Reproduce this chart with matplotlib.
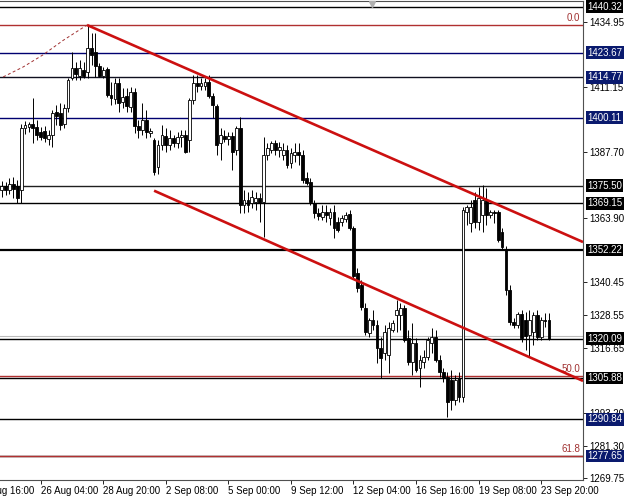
import matplotlib
matplotlib.use("Agg")
import matplotlib.pyplot as plt
import matplotlib.transforms as mtransforms

plt.rcParams["font.family"] = ["Liberation Sans", "DejaVu Sans"]
plt.rcParams["font.size"] = 7

# =============================================================================
# H4 candles, bar index 0 = 26 Aug 04:00
first_bar = -10
opens = [
    1374.0, 1375.4, 1374.0, 1376.1, 1375.4, 1374.0, 1396.4, 1396.8, 1397.9, 1396.8,
    1395.0, 1395.3, 1392.4, 1393.9, 1402.2, 1401.9, 1397.9, 1403.7, 1414.5, 1418.2,
    1415.3, 1417.4, 1416.7, 1425.4, 1424.0, 1418.9, 1415.3, 1417.8, 1408.4, 1406.9,
    1412.7, 1405.8, 1408.0, 1404.0, 1409.5, 1397.1, 1395.7, 1399.3, 1394.6, 1392.1,
    1382.3, 1390.3, 1393.5, 1390.3, 1392.8, 1391.0, 1393.2, 1393.9, 1392.1, 1406.6,
    1412.7, 1411.6, 1411.6, 1413.1, 1408.0, 1404.4, 1391.0, 1393.5, 1392.4, 1393.5,
    1388.5, 1396.4, 1368.5, 1370.3, 1369.3, 1369.6, 1371.1, 1369.6, 1386.6, 1388.5,
    1391.0, 1388.5, 1386.6, 1388.5, 1383.7, 1386.6, 1387.7, 1386.6, 1378.3, 1376.9,
    1369.3, 1365.6, 1364.2, 1366.0, 1363.8, 1366.0, 1362.4, 1362.4, 1363.5, 1365.3,
    1360.2, 1343.9, 1339.5, 1331.2, 1322.2, 1326.9, 1325.1, 1316.7, 1314.9, 1314.2,
    1323.2, 1328.7, 1328.7, 1331.2, 1320.3, 1311.6, 1318.5, 1309.5, 1311.6, 1313.5,
    1318.5, 1320.7, 1312.4, 1308.0, 1306.2, 1305.1, 1297.9, 1305.8, 1299.0, 1366.0,
    1362.0, 1370.3, 1362.4, 1364.9, 1370.3, 1364.9, 1366.0, 1366.0, 1358.8, 1352.2,
    1337.7, 1326.1, 1325.1, 1329.0, 1326.9, 1321.4, 1322.5, 1328.7, 1320.7, 1326.9,
    1326.9,
]
highs = [
    1377.2, 1376.9, 1378.3, 1378.7, 1377.6, 1397.9, 1399.0, 1398.6, 1407.3, 1399.3,
    1396.8, 1397.1, 1395.7, 1403.0, 1404.8, 1405.5, 1405.1, 1414.5, 1424.0, 1420.3,
    1421.1, 1420.3, 1433.7, 1430.8, 1430.8, 1420.0, 1418.5, 1418.5, 1413.1, 1414.5,
    1414.5, 1410.9, 1410.9, 1411.3, 1410.9, 1399.3, 1405.5, 1403.0, 1396.4, 1392.8,
    1392.1, 1397.5, 1396.4, 1395.7, 1393.9, 1395.0, 1395.7, 1395.7, 1407.3, 1415.6,
    1415.6, 1414.5, 1414.5, 1415.6, 1409.1, 1405.1, 1396.4, 1395.7, 1395.0, 1395.0,
    1397.1, 1400.4, 1374.0, 1373.2, 1374.0, 1373.2, 1372.9, 1393.2, 1391.0, 1391.7,
    1392.1, 1391.4, 1391.0, 1390.3, 1389.2, 1391.0, 1391.0, 1388.5, 1380.5, 1378.3,
    1370.3, 1367.4, 1368.5, 1368.5, 1367.4, 1368.5, 1364.2, 1364.9, 1366.0, 1366.7,
    1360.9, 1345.7, 1341.4, 1333.0, 1327.6, 1330.5, 1326.9, 1320.7, 1325.1, 1326.1,
    1326.9, 1334.1, 1333.0, 1332.3, 1323.2, 1325.8, 1320.3, 1314.2, 1316.0, 1320.7,
    1324.0, 1323.2, 1314.2, 1309.5, 1308.0, 1308.7, 1306.9, 1308.0, 1367.8, 1368.5,
    1370.3, 1373.2, 1375.1, 1375.8, 1374.7, 1366.7, 1366.7, 1366.7, 1360.2, 1353.7,
    1339.5, 1327.6, 1329.8, 1330.5, 1329.8, 1330.5, 1329.8, 1330.5, 1328.0, 1329.4,
    1329.4,
]
lows = [
    1371.4, 1372.2, 1372.5, 1371.1, 1369.3, 1369.3, 1394.3, 1395.0, 1391.0, 1392.1,
    1392.1, 1391.4, 1390.3, 1389.5, 1397.5, 1395.7, 1396.4, 1402.2, 1413.8, 1413.8,
    1413.8, 1414.5, 1414.5, 1419.3, 1414.9, 1414.9, 1414.5, 1407.7, 1404.8, 1405.1,
    1402.2, 1403.7, 1402.2, 1402.2, 1394.6, 1392.8, 1393.9, 1392.8, 1393.2, 1379.4,
    1379.8, 1388.5, 1387.7, 1388.5, 1389.5, 1389.2, 1389.5, 1387.4, 1387.7, 1405.1,
    1409.5, 1410.2, 1410.2, 1407.3, 1400.0, 1386.6, 1384.8, 1391.4, 1390.3, 1381.2,
    1386.6, 1365.6, 1365.6, 1366.0, 1367.4, 1366.7, 1362.4, 1356.9, 1384.8, 1387.4,
    1386.6, 1385.9, 1384.8, 1381.9, 1381.9, 1384.1, 1383.0, 1376.5, 1375.8, 1368.5,
    1363.8, 1363.1, 1363.1, 1362.4, 1361.3, 1356.6, 1358.8, 1360.9, 1362.4, 1359.5,
    1342.1, 1337.0, 1330.5, 1321.4, 1320.7, 1323.2, 1311.3, 1305.8, 1312.4, 1307.7,
    1322.5, 1322.5, 1323.2, 1318.9, 1310.6, 1306.9, 1308.0, 1302.6, 1309.5, 1312.4,
    1314.9, 1311.6, 1306.2, 1304.4, 1291.7, 1294.3, 1296.1, 1297.2, 1297.2, 1361.3,
    1358.8, 1360.2, 1359.5, 1358.8, 1361.3, 1363.8, 1362.0, 1355.1, 1352.2, 1335.9,
    1325.1, 1324.0, 1324.0, 1318.9, 1316.0, 1313.5, 1317.8, 1319.6, 1319.6, 1324.3,
    1319.8,
]
closes = [
    1375.4, 1374.0, 1376.1, 1374.3, 1371.1, 1396.4, 1397.5, 1397.9, 1396.4, 1393.9,
    1393.2, 1392.8, 1393.9, 1401.9, 1400.8, 1397.5, 1403.7, 1413.8, 1418.2, 1416.0,
    1418.2, 1415.3, 1425.4, 1422.9, 1418.9, 1415.3, 1417.4, 1408.4, 1407.3, 1412.7,
    1405.5, 1407.7, 1404.4, 1409.5, 1397.1, 1395.7, 1399.3, 1395.0, 1395.3, 1380.5,
    1390.3, 1393.9, 1390.3, 1392.8, 1391.0, 1393.2, 1393.9, 1387.7, 1406.6, 1412.7,
    1411.6, 1412.7, 1413.1, 1408.0, 1404.8, 1390.3, 1393.9, 1392.4, 1393.5, 1387.7,
    1396.4, 1368.5, 1370.3, 1368.5, 1371.4, 1371.1, 1369.3, 1386.6, 1389.2, 1391.0,
    1388.5, 1389.5, 1388.5, 1383.0, 1387.4, 1387.7, 1386.6, 1377.6, 1376.5, 1369.6,
    1365.6, 1364.5, 1366.0, 1364.9, 1366.0, 1360.2, 1359.5, 1363.8, 1364.9, 1360.2,
    1342.8, 1338.5, 1331.6, 1322.5, 1326.9, 1325.1, 1316.7, 1313.1, 1322.5, 1324.0,
    1325.8, 1330.5, 1331.2, 1319.6, 1311.6, 1318.5, 1308.7, 1312.4, 1313.5, 1319.6,
    1320.7, 1312.4, 1308.0, 1305.8, 1297.2, 1297.9, 1305.1, 1299.0, 1366.7, 1367.8,
    1367.8, 1362.4, 1371.1, 1370.3, 1364.9, 1366.0, 1365.6, 1355.8, 1353.3, 1337.7,
    1326.1, 1325.1, 1329.0, 1320.3, 1321.1, 1326.9, 1328.7, 1320.7, 1326.9, 1326.5,
    1320.1,
]

# horizontal levels with boxed price labels
levels = [1440.32, 1423.67, 1414.77, 1400.11, 1375.50, 1369.15, 1352.22,
          1320.09, 1305.88, 1290.84, 1277.65]
level_line_colors = ["#000000", "#000070", "#101020", "#000070", "#202020", "#000000",
                     "#000000", "#000000", "#000000", "#000000", "#000000"]
level_box_colors = ["#000000", "#0a1a6e", "#0a1a6e", "#0a1a6e", "#000000", "#000000",
                    "#000000", "#000000", "#000000", "#0a1a6e", "#0a1a6e"]
level_widths = [1.0, 1.0, 1.0, 1.0, 1.0, 1.0, 1.6, 1.0, 1.0, 1.0, 1.0]
bid_price = 1320.9

# fibonacci levels
fib_prices = [1433.8, 1306.7, 1277.65]
fib_names = ["0.0", "50.0", "61.8"]

# right axis price scale
price_ticks = [1434.95, 1411.15, 1387.70, 1363.90, 1340.45, 1328.55, 1316.65,
               1293.20, 1281.30, 1269.75]

# channel lines (bar index, price)
upper_x = [11.85, 138.7]
upper_y = [1433.7, 1355.1]
lower_x = [29.0, 138.7]
lower_y = [1373.7, 1304.8]
arc_x = [-9.6, -4.5, 0.6, 5.7, 11.85]
arc_y = [1414.9, 1418.5, 1422.9, 1428.1, 1433.7]

time_ticks = [-16, 0, 16, 32, 48, 64, 80, 96, 112, 128]
time_labels = ["22 Aug 16:00", "26 Aug 04:00", "28 Aug 20:00", "2 Sep 08:00",
               "5 Sep 00:00", "9 Sep 12:00", "12 Sep 04:00", "16 Sep 16:00",
               "19 Sep 08:00", "23 Sep 20:00"]


# =============================================================================
def draw_candles(ax):
    bars = list(range(first_bar, first_bar + len(opens)))
    ax.vlines(bars, lows, highs, color="black", lw=0.7, zorder=3)
    for x, o, c in zip(bars, opens, closes):
        body = max(abs(c - o), 0.35)
        face = "white" if c >= o else "black"
        ax.bar(x, body, bottom=min(o, c), width=0.72, color=face,
               edgecolor="black", linewidth=0.6, zorder=4)


def draw_levels(ax):
    trans = mtransforms.blended_transform_factory(ax.transAxes, ax.transData)
    for price, lc, bc, lw in zip(levels, level_line_colors, level_box_colors, level_widths):
        ax.axhline(price, color=lc, lw=lw, zorder=2)
        ax.text(1.007, price, f"{price:.2f}", transform=trans, color="white",
                ha="left", va="center", fontsize=7, clip_on=False, zorder=10,
                bbox=dict(boxstyle="square,pad=0.14", fc=bc, ec="none"))
    ax.axhline(bid_price, color="#bbbbbb", lw=0.8, zorder=2)

    for price, name in zip(fib_prices, fib_names):
        ax.axhline(price, color="#b03030", lw=1.0, zorder=2.2)
        ax.text(0.995, price + 0.6, name, transform=trans, color="#a03030",
                ha="right", va="bottom", fontsize=7, zorder=5)


# =============================================================================
fig = plt.figure(figsize=(6.25, 4.99), dpi=100)
fig.patch.set_facecolor("white")
ax = fig.add_axes([0.0, 0.038, 0.933, 0.96])

draw_levels(ax)
draw_candles(ax)

ax.plot(upper_x, upper_y, color="#cc1010", lw=1.9, zorder=6, solid_capstyle="butt")
ax.plot(lower_x, lower_y, color="#cc1010", lw=1.9, zorder=6, solid_capstyle="butt")
ax.plot(arc_x, arc_y, color="#a03030", lw=0.7, ls=(0, (3, 2.5)), zorder=6)

# chart shift marker
ax.plot([84.8], [1441.3], marker="v", ms=4, color="#b0b0b0", clip_on=False, zorder=7)

ax.set_xlim(-10.41, 138.73)
ax.set_ylim(1268.9, 1442.4)

ax.yaxis.tick_right()
ax.set_yticks(price_ticks)
ax.set_yticklabels([f"{p:.2f}" for p in price_ticks])
ax.tick_params(axis="y", direction="out", length=3, width=0.6, pad=1.5, colors="black")

ax.set_xticks(time_ticks[1:])
ax.set_xticklabels(time_labels[1:], ha="left")
ax.tick_params(axis="x", direction="out", length=3, width=0.6, pad=1.5)
xtrans = mtransforms.blended_transform_factory(ax.transData, ax.transAxes)
ax.text(time_ticks[0] - 0.3, -0.012, time_labels[0], transform=xtrans,
        ha="left", va="top", fontsize=7, clip_on=False)

ax.spines["left"].set_visible(False)
for side in ["right", "bottom", "top"]:
    ax.spines[side].set_color("#505050")
    ax.spines[side].set_linewidth(0.8)

fig.savefig("out.png", dpi=100, facecolor="white")
